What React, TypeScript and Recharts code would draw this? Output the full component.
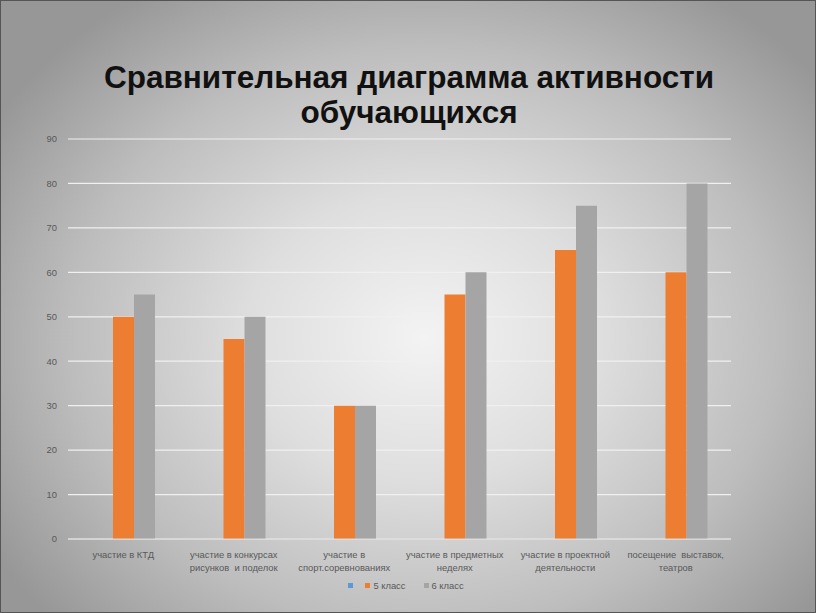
import React from "react";
import { BarChart, Bar, XAxis, YAxis, CartesianGrid, Legend } from "recharts";

const categories = [
  "участие в КТД",
  "участие в конкурсах\nрисунков  и поделок",
  "участие в\nспорт.соревнованиях",
  "участие в предметных\nнеделях",
  "участие в проектной\nдеятельности",
  "посещение  выставок,\nтеатров",
];
const seriesBlank: (number | null)[] = [null, null, null, null, null, null];
const series5: number[] = [50, 45, 30, 55, 65, 60];
const series6: number[] = [55, 50, 30, 60, 75, 80];
const yTicks = [0, 10, 20, 30, 40, 50, 60, 70, 80, 90];
const seriesNames = ["", "5 класс", "6 класс"];
const seriesColors = ["#5B9BD5", "#ED7D31", "#A5A5A5"];

const data = categories.map((c, i) => ({
  name: c,
  s0: seriesBlank[i],
  s1: series5[i],
  s2: series6[i],
}));

const TITLE_FONT = "'Liberation Sans', Arial, sans-serif";
const FONT = "'Liberation Sans', Arial, sans-serif";
const TICK_SIZE = 9.4;

const XTick = (props: any) => {
  const { x, y, payload } = props;
  const lines = String(payload.value).split("\n");
  return (
    <g transform={`translate(${x},${y})`}>
      {lines.map((l, i) => (
        <text
          key={i}
          x={0}
          y={0}
          dy={11 + i * 12.5}
          textAnchor="middle"
          fill="#595959"
          fontSize={TICK_SIZE}
          fontFamily={FONT}
          style={{ whiteSpace: "pre" }}
        >
          {l}
        </text>
      ))}
    </g>
  );
};

const LegendContent = () => (
  <div
    style={{
      display: "flex",
      justifyContent: "center",
      alignItems: "center",
      fontFamily: FONT,
      fontSize: TICK_SIZE,
      color: "#595959",
      paddingRight: 4,
    }}
  >
    {seriesNames.map((n, i) => (
      <div
        key={i}
        style={{ display: "flex", alignItems: "center", marginRight: i === 0 ? 12 : i === 1 ? 18 : 0 }}
      >
        <span
          style={{
            display: "inline-block",
            width: 5,
            height: 5,
            background: seriesColors[i],
            marginRight: n ? 3 : 0,
          }}
        />
        <span>{n}</span>
      </div>
    ))}
  </div>
);

export default function App() {
  return (
    <div
      style={{
        position: "absolute",
        left: 0,
        top: 0,
        width: 816,
        height: 613,
        boxSizing: "border-box",
        border: "1px solid #555",
        background:
          "radial-gradient(ellipse 62% 68% at 52% 55%, #f3f3f3 0%, #dedede 35%, #bdbdbd 70%, #979797 100%)",
        overflow: "hidden",
      }}
    >
      <div
        style={{
          position: "absolute",
          left: 0,
          top: 59,
          width: 816,
          textAlign: "center",
          fontFamily: TITLE_FONT,
          fontWeight: "bold",
          fontSize: 31.5,
          lineHeight: "35px",
          color: "#111",
        }}
      >
        Сравнительная диаграмма активности
        <br />
        обучающихся
      </div>
      <div style={{ position: "absolute", left: -1, top: -1 }}>
        <BarChart
          width={816}
          height={613}
          data={data}
          margin={{ top: 139, right: 85, bottom: 23, left: 38 }}
          barGap={0}
          barSize={21}
        >
          <CartesianGrid vertical={false} stroke="#f0f0f0" strokeWidth={1.2} />
          <XAxis
            dataKey="name"
            interval={0}
            tick={<XTick />}
            tickLine={false}
            axisLine={{ stroke: "#d9d9d9" }}
            height={40}
          />
          <YAxis
            domain={[0, 90]}
            ticks={yTicks}
            axisLine={false}
            tickLine={false}
            width={30}
            tickMargin={5}
            tick={{ fill: "#595959", fontSize: TICK_SIZE, fontFamily: FONT }}
          />
          <Legend
            content={<LegendContent />}
            wrapperStyle={{ position: "absolute", top: 580, left: 0, width: 816 }}
          />
          <Bar dataKey="s0" name={seriesNames[0]} fill={seriesColors[0]} isAnimationActive={false} />
          <Bar dataKey="s1" name={seriesNames[1]} fill={seriesColors[1]} isAnimationActive={false} />
          <Bar dataKey="s2" name={seriesNames[2]} fill={seriesColors[2]} isAnimationActive={false} />
        </BarChart>
      </div>
    </div>
  );
}
